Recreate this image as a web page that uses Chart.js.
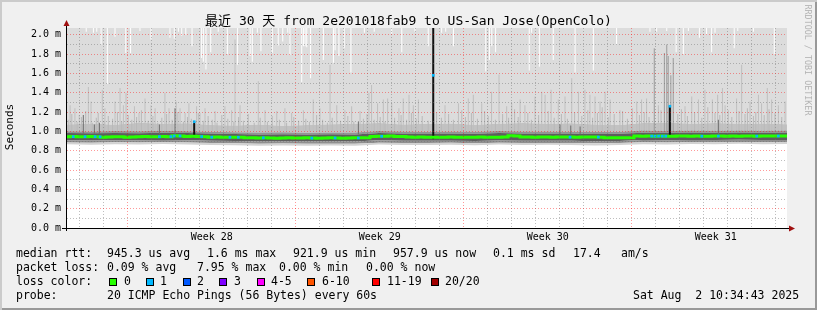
<!DOCTYPE html>
<html>
<head>
<meta charset="utf-8">
<title>smokeping 30 days</title>
<script src="https://cdn.jsdelivr.net/npm/chart.js@4.4.1/dist/chart.umd.min.js"></script>
<style>
body{margin:0;background:#f0f0f0;}
#frame{position:relative;width:817px;height:310px;background:#f0f0f0;box-shadow:inset 2px 2px 0 #cbcbcb,inset -2px -2px 0 #999;overflow:hidden;font-family:"DejaVu Sans Mono","Noto Sans CJK SC",monospace;color:#000;}
#frame canvas{position:absolute;left:0;top:0;}
.t{position:absolute;white-space:pre;font-size:11.5px;line-height:14px;}
.box{position:absolute;top:278px;width:8px;height:8px;border:1px solid #000;box-sizing:border-box;}
</style>
</head>
<body>
<div id="frame">
  <canvas id="plot" width="817" height="310"></canvas>
  <div class="t" style="left:0;top:12px;width:817px;text-align:center;font-size:13px;line-height:18px;">最近 30 天 from 2e201018fab9 to US-San Jose(OpenColo)</div>
  <div class="t" style="left:-20px;top:120px;width:60px;text-align:center;font-size:11px;transform:rotate(-90deg);">Seconds</div>
  <div class="t" style="left:748px;top:55px;width:120px;text-align:center;font-size:8.4px;line-height:10px;color:#b4b4b4;transform:rotate(90deg);">RRDTOOL / TOBI OETIKER</div>

  <div class="t" style="left:16px;top:246px;">median rtt:</div>
  <div class="t" style="left:107px;top:246px;">945.3 us avg</div>
  <div class="t" style="left:207px;top:246px;">1.6 ms max</div>
  <div class="t" style="left:293px;top:246px;">921.9 us min</div>
  <div class="t" style="left:393px;top:246px;">957.9 us now</div>
  <div class="t" style="left:493px;top:246px;">0.1 ms sd</div>
  <div class="t" style="left:573px;top:246px;">17.4</div>
  <div class="t" style="left:621px;top:246px;">am/s</div>

  <div class="t" style="left:16px;top:260px;">packet loss:</div>
  <div class="t" style="left:107px;top:260px;">0.09 % avg</div>
  <div class="t" style="left:197px;top:260px;">7.95 % max</div>
  <div class="t" style="left:279px;top:260px;">0.00 % min</div>
  <div class="t" style="left:366px;top:260px;">0.00 % now</div>

  <div class="t" style="left:16px;top:274px;">loss color:</div>
  <div class="box" style="left:109px;background:#26ff00;"></div><div class="t" style="left:124px;top:274px;">0</div>
  <div class="box" style="left:146px;background:#00b8ff;"></div><div class="t" style="left:160px;top:274px;">1</div>
  <div class="box" style="left:183px;background:#0059ff;"></div><div class="t" style="left:197px;top:274px;">2</div>
  <div class="box" style="left:219px;background:#7e00ff;"></div><div class="t" style="left:234px;top:274px;">3</div>
  <div class="box" style="left:257px;background:#ff00ff;"></div><div class="t" style="left:271px;top:274px;">4-5</div>
  <div class="box" style="left:307px;background:#ff5500;"></div><div class="t" style="left:322px;top:274px;">6-10</div>
  <div class="box" style="left:372px;background:#ff0000;"></div><div class="t" style="left:387px;top:274px;">11-19</div>
  <div class="box" style="left:431px;background:#a10000;"></div><div class="t" style="left:445px;top:274px;">20/20</div>

  <div class="t" style="left:16px;top:288px;">probe:</div>
  <div class="t" style="left:107px;top:288px;">20 ICMP Echo Pings (56 Bytes) every 60s</div>
  <div class="t" style="left:633px;top:288px;">Sat Aug  2 10:34:43 2025</div>
</div>

<script>
// x = days since the start of the 30 day window, y = milliseconds

var weekLabels = ['Week 28', 'Week 29', 'Week 30', 'Week 31'];
var weekLabelDays = [6.03, 13.03, 20.03, 27.03];
var weekStartDays = [2.53, 9.53, 16.53, 23.53];
var dayGridDays = [0.53, 1.53, 2.53, 3.53, 4.53, 5.53, 6.53, 7.53, 8.53, 9.53, 10.53, 11.53, 12.53, 13.53, 14.53,
    15.53, 16.53, 17.53, 18.53, 19.53, 20.53, 21.53, 22.53, 23.53, 24.53, 25.53, 26.53, 27.53, 28.53, 29.53];
var yTicks = [0, 0.1, 0.2, 0.3, 0.4, 0.5, 0.6, 0.7, 0.8, 0.9, 1.0, 1.1, 1.2, 1.3, 1.4, 1.5, 1.6, 1.7, 1.8, 1.9, 2.0];
var yMax = 2.07;

// smoke bands, one value per day
var bandDays = [0, 1, 2, 3, 4, 5, 6, 7, 8, 9, 10, 11, 12, 13, 14, 15, 16, 17, 18, 19, 20, 21, 22, 23, 24, 25, 26, 27, 28, 29, 30];
var smokeBottom = [0.866, 0.862, 0.868, 0.864, 0.870, 0.865, 0.860, 0.856, 0.852, 0.855, 0.850, 0.854, 0.852, 0.864, 0.860, 0.858,
    0.862, 0.857, 0.863, 0.859, 0.861, 0.858, 0.854, 0.860, 0.868, 0.864, 0.870, 0.866, 0.871, 0.867, 0.869];
var smokeLow = [0.885, 0.883, 0.887, 0.884, 0.888, 0.885, 0.881, 0.876, 0.872, 0.874, 0.871, 0.873, 0.872, 0.883, 0.880, 0.879,
    0.882, 0.878, 0.883, 0.880, 0.881, 0.879, 0.876, 0.879, 0.888, 0.885, 0.889, 0.887, 0.890, 0.888, 0.889];
var smokeCoreLow = [0.908, 0.906, 0.909, 0.907, 0.910, 0.908, 0.904, 0.900, 0.895, 0.896, 0.894, 0.896, 0.895, 0.907, 0.903, 0.902,
    0.904, 0.901, 0.905, 0.903, 0.904, 0.902, 0.898, 0.901, 0.911, 0.909, 0.912, 0.910, 0.913, 0.911, 0.912];
var smokeCoreHigh = [0.982, 0.980, 0.983, 0.981, 0.987, 0.983, 0.977, 0.973, 0.969, 0.970, 0.968, 0.970, 0.969, 0.984, 0.979, 0.977,
    0.979, 0.976, 0.984, 0.978, 0.979, 0.977, 0.973, 0.976, 0.987, 0.985, 0.988, 0.986, 0.989, 0.987, 0.988];
var smokeHigh = [1.002, 0.999, 1.003, 1.001, 1.007, 1.002, 0.996, 0.992, 0.988, 0.990, 0.987, 0.989, 0.988, 1.004, 0.999, 0.997,
    1.000, 0.996, 1.004, 0.998, 0.999, 0.997, 0.993, 0.996, 1.008, 1.005, 1.009, 1.006, 1.010, 1.007, 1.008];
var smokeDense = [1.070, 1.082, 1.068, 1.090, 1.078, 1.084, 1.065, 1.060, 1.072, 1.058, 1.066, 1.075, 1.080, 1.086, 1.070, 1.078,
    1.082, 1.068, 1.080, 1.086, 1.078, 1.084, 1.072, 1.066, 1.088, 1.092, 1.080, 1.086, 1.078, 1.082, 1.075];

// median rtt, one value every 6 hours
var medianStep = 0.25;
var medianRtt = [0.945, 0.946, 0.945, 0.944, 0.946, 0.945, 0.940, 0.941, 0.945, 0.944, 0.940, 0.941,
    0.945, 0.946, 0.944, 0.945, 0.946, 0.945, 0.955, 0.953, 0.948, 0.950, 0.946, 0.944,
    0.940, 0.941, 0.940, 0.938, 0.940, 0.939,
    0.935, 0.933, 0.932, 0.934, 0.932, 0.930, 0.932, 0.933, 0.931, 0.932, 0.934, 0.932, 0.930, 0.931, 0.933, 0.932, 0.930, 0.932, 0.934, 0.933, 0.935,
    0.948, 0.950, 0.949, 0.951, 0.948, 0.946,
    0.942, 0.940, 0.941, 0.939, 0.940, 0.938, 0.940, 0.941, 0.939, 0.940, 0.938, 0.940, 0.941, 0.940, 0.939, 0.940, 0.941,
    0.955, 0.953,
    0.942, 0.941, 0.940, 0.942, 0.941, 0.940, 0.942, 0.943, 0.941, 0.940, 0.942, 0.941, 0.943, 0.940,
    0.935, 0.934, 0.935, 0.933, 0.935,
    0.951, 0.950, 0.952, 0.950, 0.951, 0.949, 0.950, 0.951, 0.952, 0.950, 0.951, 0.950, 0.949, 0.951, 0.952, 0.950,
    0.951, 0.950, 0.952, 0.951, 0.950, 0.951, 0.953, 0.951, 0.952, 0.953];

// samples with 1 lost ping
var lossOneDays = [0.26, 0.75, 1.17, 1.38, 3.85, 4.33, 4.47, 4.71, 5.30, 5.61, 6.03, 6.79, 7.14, 8.18, 10.20, 11.17, 12.14,
    13.11, 15.26, 20.96, 22.14, 24.36, 24.50, 24.65, 24.80, 24.95, 25.12, 26.45, 27.14, 28.74, 29.64];
var lossOneRtt = [0.945, 0.945, 0.945, 0.944, 0.945, 0.946, 0.952, 0.953, 1.10, 0.946, 0.940, 0.939, 0.939, 0.933, 0.930, 0.932, 0.932,
    0.949, 1.58, 0.940, 0.941, 0.951, 0.950, 0.951, 0.950, 0.951, 1.26, 0.950, 0.951, 0.951, 0.952];

// single ping outliers (thin smoke spikes)
var spikeBase = 1.0;
var lightSpikeDays = [0.13, 0.33, 0.51, 0.89, 1.00, 1.47, 1.58, 2.00, 2.21, 2.35, 2.46, 2.81, 3.00, 3.25, 3.50, 3.67, 4.08, 4.25,
    4.55, 4.71, 4.92, 5.08, 5.40, 5.54, 5.75, 6.17, 6.58, 6.86, 7.00, 7.21,
    7.97, 8.25, 8.74, 9.08, 9.36, 9.85, 10.26, 10.54, 10.96, 11.24, 11.58, 11.86, 12.21, 12.58, 12.69, 12.94, 13.18, 13.36,
    13.53, 13.83, 14.01, 14.25, 14.43, 14.64,
    15.75, 16.31, 16.72, 16.93, 17.28, 17.69, 18.00, 18.32, 18.53, 18.88, 19.08, 19.50, 19.78, 19.92, 20.17, 20.47, 20.75,
    21.03, 21.31, 21.58, 21.79, 22.00, 22.21, 22.42,
    22.63, 23.04, 23.74, 23.94, 24.15, 24.64, 25.75, 26.03, 26.31, 26.58, 26.89, 27.11, 27.31, 27.42, 27.90, 28.11, 28.46,
    28.81, 28.94, 29.18, 29.36, 29.64, 29.92];
var lightSpikeTops = [1.27, 1.24, 1.17, 1.46, 1.31, 1.43, 1.24, 1.31, 1.45, 1.27, 1.40, 1.26, 1.19, 1.34, 1.27, 1.24, 1.40, 1.24,
    1.31, 1.24, 1.19, 1.29, 1.26, 1.19, 1.24, 1.21, 1.26, 1.22, 1.95, 1.27,
    1.52, 1.22, 1.21, 1.24, 1.19, 1.22, 1.33, 1.24, 1.69, 1.27, 1.22, 1.26, 1.21, 1.40, 1.48, 1.29, 1.33, 1.34,
    1.29, 1.24, 1.34, 1.38, 1.27, 1.33,
    1.27, 1.29, 1.34, 1.38, 1.29, 1.41, 1.59, 1.26, 1.29, 1.33, 1.27, 1.36, 1.41, 1.38, 1.43, 1.33, 1.36,
    1.55, 1.41, 1.43, 1.38, 1.36, 1.31, 1.41,
    1.33, 1.22, 1.31, 1.33, 1.34, 1.27, 1.26, 1.36, 1.33, 1.43, 1.33, 1.38, 1.45, 1.27, 1.34, 1.69, 1.31,
    1.38, 1.29, 1.45, 1.33, 1.27, 1.31];

var shortSpikeDays = [0.05, 0.20, 0.42, 0.60, 0.78, 1.05, 1.22, 1.30, 1.55, 1.72, 1.90, 2.10, 2.28, 2.55, 2.70, 2.90, 3.10, 3.38,
    3.58, 3.78, 3.95, 4.15, 4.38, 4.62, 4.85, 5.02, 5.18, 5.47, 5.68, 5.88, 6.05, 6.25, 6.45, 6.70, 6.95, 7.15, 7.35, 7.55,
    7.80, 8.05, 8.35, 8.55, 8.85, 9.15, 9.45, 9.65, 9.95, 10.10, 10.40, 10.65, 10.85, 11.05, 11.40, 11.70, 11.95, 12.35,
    12.50, 12.80, 13.05, 13.25, 13.65, 13.92, 14.15, 14.35, 14.55, 14.80, 15.05, 15.40, 15.60, 15.90, 16.10, 16.45, 16.60,
    16.85, 17.10, 17.40, 17.55, 17.85, 18.15, 18.40, 18.65, 18.80, 19.20, 19.35, 19.65, 20.05, 20.30, 20.60, 20.85, 21.15,
    21.45, 21.70, 21.90, 22.10, 22.30, 22.55, 22.80, 23.15, 23.35, 23.55, 23.85, 24.05, 24.25, 24.75, 25.45, 25.60, 25.85,
    26.15, 26.45, 26.70, 27.00, 27.20, 27.55, 27.70, 28.00, 28.25, 28.35, 28.60, 28.70, 29.05, 29.25, 29.50, 29.78];
var shortSpikeTops = [1.12, 1.18, 1.10, 1.15, 1.21, 1.09, 1.14, 1.19, 1.11, 1.16, 1.13, 1.20, 1.10, 1.17, 1.12, 1.15, 1.22, 1.11,
    1.16, 1.09, 1.14, 1.18, 1.12, 1.20, 1.10, 1.15, 1.13, 1.19, 1.11, 1.16,
    1.12, 1.09, 1.17, 1.13, 1.10, 1.15, 1.11, 1.18, 1.09, 1.14, 1.10, 1.16, 1.12, 1.09, 1.15, 1.11, 1.13, 1.10, 1.17, 1.12,
    1.09, 1.14, 1.11, 1.16, 1.10, 1.13, 1.18, 1.12, 1.15, 1.10,
    1.14, 1.17, 1.12, 1.19, 1.13, 1.16, 1.11, 1.20, 1.14, 1.18, 1.12, 1.22, 1.15, 1.19, 1.13, 1.21, 1.16, 1.12, 1.18, 1.14,
    1.23, 1.15, 1.19, 1.12, 1.17, 1.21, 1.14, 1.18, 1.13, 1.20,
    1.16, 1.22, 1.14, 1.19, 1.25, 1.15, 1.18, 1.21, 1.13, 1.24, 1.17, 1.20, 1.15, 1.22, 1.18, 1.23, 1.16, 1.20, 1.14, 1.25,
    1.19, 1.17, 1.22, 1.15, 1.21, 1.18, 1.24, 1.16, 1.20, 1.17, 1.23, 1.19, 1.15];

var greySpikeDays = [24.47, 24.89, 24.99, 25.05, 25.16, 25.26];
var greySpikeTops = [1.86, 1.81, 1.90, 1.78, 1.58, 1.76];

var darkSpikeDays = [0.68, 1.14, 1.35, 3.85, 4.50, 12.14, 20.54, 20.99, 21.38, 27.14];
var darkSpikeTops = [1.17, 1.07, 1.09, 1.07, 1.24, 1.10, 1.07, 1.06, 1.05, 1.12];

var blackSpikeDays = [5.30, 15.26, 25.12];
var blackSpikeLows = [0.95, 0.92, 0.95];
var blackSpikeTops = [1.10, 2.07, 1.26];

// gaps at the top where the slowest ping stayed under the scale
var notchDays = [0.80, 1.10, 1.24, 1.42, 1.68, 2.00, 2.45, 2.65, 3.04, 3.50, 4.29, 4.47, 4.64, 4.78, 4.95, 5.21, 5.61, 5.68,
    5.79, 5.99, 6.30, 6.68, 7.11,
    7.63, 7.72, 7.93, 8.08, 8.55, 8.80, 8.99, 9.20, 9.29, 9.78, 9.85, 9.92, 9.99, 10.15, 10.68, 11.10, 11.17, 11.33, 11.55,
    11.83, 12.39, 12.80, 13.53, 13.95, 14.50,
    15.05, 15.61, 15.78, 16.10, 17.45, 17.60, 17.70, 17.86, 19.26, 19.36, 19.68, 20.26, 21.17, 21.93,
    22.90, 24.29, 24.57, 24.99, 25.38, 25.68, 25.89, 26.35, 26.65, 26.86, 27.00, 27.80, 27.95, 28.60, 29.47];
var notchLows = [2.03, 2.02, 2.03, 1.90, 1.49, 1.98, 1.81, 1.81, 2.04, 1.95, 1.97, 1.96, 2.03, 1.99, 2.00, 1.88, 1.76, 1.72,
    1.64, 1.82, 2.03, 1.80, 1.69,
    1.78, 1.72, 2.02, 1.83, 1.81, 1.89, 1.93, 2.02, 1.79, 1.51, 1.88, 1.88, 1.87, 1.55, 1.74, 1.71, 1.84, 1.78, 1.86,
    1.61, 2.02, 2.03, 2.01, 1.82, 2.03,
    1.88, 2.02, 2.03, 1.88, 1.62, 1.74, 1.88, 1.82, 1.63, 2.02, 1.67, 1.74, 1.61, 1.63,
    1.90, 2.03, 2.03, 2.04, 1.82, 1.80, 2.04, 1.97, 2.00, 1.82, 2.02, 1.86, 2.04, 2.03, 1.80];


var MGRID = 'rgba(255,0,0,0.4)';
var GRID = 'rgba(110,110,110,0.45)';

var pts = function(xs, ys){
    return xs.map(function(x, i){ return {x: x, y: ys[i]}; });
};

var band = function(ys, target, color, order){
    return {type: 'line', data: pts(bandDays, ys), fill: target, backgroundColor: color,
            borderWidth: 0, pointRadius: 0, order: order};
};

var spikes = function(days, lows, tops, color, width, order){
    return {
        type: 'bar',
        data: days.map(function(d, i){
            var lo = Array.isArray(lows) ? lows[i] : lows;
            var hi = Array.isArray(tops) ? tops[i] : tops;
            return {x: d, y: [lo, hi]};
        }),
        backgroundColor: color, borderWidth: 0, barThickness: width, inflateAmount: 0,
        stack: 'smoke', order: order
    };
};

var datasets = [
    band(smokeBottom, false, 'rgba(0,0,0,0)', 76),      // 0
    band(smokeLow, 0, '#d2d2d2', 77),                  // 1
    band(smokeCoreLow, 1, '#8f8f8f', 78),              // 2
    band(smokeCoreHigh, 2, '#5e5e5e', 79),             // 3
    band(smokeHigh, 3, '#949494', 80),                 // 4
    band(smokeDense, 4, '#c2c2c2', 95),                // 5
    band(smokeDense, 'end', '#dcdcdc', 100),           // 6
    spikes(lightSpikeDays, spikeBase, lightSpikeTops, '#bfbfbf', 1, 90),
    spikes(shortSpikeDays, spikeBase, shortSpikeTops, '#b8b8b8', 1, 91),
    spikes(greySpikeDays, spikeBase, greySpikeTops, '#9a9a9a', 1, 88),
    spikes(notchDays, notchLows, yMax, '#ffffff', 1, 86),
    spikes(darkSpikeDays, 0.97, darkSpikeTops, '#6e6e6e', 1, 60),
    spikes(blackSpikeDays, blackSpikeLows, blackSpikeTops, '#111111', 2, 50),
    {
        type: 'line',
        data: medianRtt.map(function(v, i){ return {x: i * medianStep, y: v}; }),
        stepped: 'middle', borderColor: '#26ff00', borderWidth: 3, pointRadius: 0, fill: false, order: 10
    },
    {
        type: 'line', data: pts(lossOneDays, lossOneRtt), showLine: false,
        pointStyle: 'rect', pointRadius: 1.9, pointBackgroundColor: '#00b8ff', pointBorderWidth: 0, order: 5
    }
];

var plotBack = {
    id: 'plotBack',
    beforeDraw: function(chart){
        var a = chart.chartArea, ctx = chart.ctx;
        ctx.save();
        ctx.fillStyle = '#ffffff';
        ctx.fillRect(a.left, a.top, a.right - a.left, a.bottom - a.top);
        ctx.restore();
    }
};

// rrdtool style axes with arrow heads
var axes = {
    id: 'axes',
    afterDraw: function(chart){
        var a = chart.chartArea, ctx = chart.ctx;
        ctx.save();
        ctx.strokeStyle = '#000';
        ctx.lineWidth = 1;
        ctx.beginPath();
        ctx.moveTo(a.left - 5, a.bottom + 0.5);
        ctx.lineTo(a.right + 3, a.bottom + 0.5);
        ctx.moveTo(a.left - 0.5, a.bottom + 3);
        ctx.lineTo(a.left - 0.5, a.top - 2);
        ctx.stroke();
        ctx.fillStyle = '#a01010';
        ctx.beginPath();
        ctx.moveTo(a.right + 2, a.bottom - 2.5);
        ctx.lineTo(a.right + 8, a.bottom + 0.5);
        ctx.lineTo(a.right + 2, a.bottom + 3.5);
        ctx.closePath();
        ctx.fill();
        ctx.beginPath();
        ctx.moveTo(a.left - 3.5, a.top - 2);
        ctx.lineTo(a.left - 0.5, a.top - 8);
        ctx.lineTo(a.left + 2.5, a.top - 2);
        ctx.closePath();
        ctx.fill();
        ctx.restore();
    }
};

Chart.defaults.font.family = '"DejaVu Sans Mono", monospace';
Chart.defaults.color = '#000';

var chart = new Chart(document.getElementById('plot').getContext('2d'), {
    type: 'line',
    data: {datasets: datasets},
    options: {
        responsive: false,
        animation: false,
        devicePixelRatio: 1,
        events: [],
        layout: {padding: {left: 0, right: 30, top: 28, bottom: 62}},
        plugins: {legend: {display: false}, tooltip: {enabled: false}},
        scales: {
            x: {
                type: 'linear', min: 0, max: 30, offset: false,
                afterBuildTicks: function(s){
                    s.ticks = dayGridDays.concat(weekLabelDays).sort(function(a, b){ return a - b; })
                        .map(function(v){ return {value: v}; });
                },
                afterFit: function(s){ s.height = 20; },
                ticks: {
                    autoSkip: false, maxRotation: 0, minRotation: 0, padding: 3, font: {size: 10},
                    callback: function(v){
                        var i = weekLabelDays.indexOf(v);
                        return i >= 0 ? weekLabels[i] : '';
                    }
                },
                grid: {
                    z: 1, offset: false, drawTicks: false, lineWidth: 1,
                    color: function(c){
                        var v = c.tick && c.tick.value;
                        if (weekLabelDays.indexOf(v) >= 0) return 'rgba(0,0,0,0)';
                        return weekStartDays.indexOf(v) >= 0 ? MGRID : GRID;
                    }
                },
                border: {display: false, dash: [1, 2]}
            },
            y: {
                type: 'linear', min: 0, max: yMax, stacked: false,
                afterBuildTicks: function(s){
                    s.ticks = yTicks.map(function(v){ return {value: v}; });
                },
                afterFit: function(s){ s.width = 67; },
                ticks: {
                    autoSkip: false, padding: 6, font: {size: 10},
                    callback: function(v){
                        return Math.round(v * 10) % 2 === 0 ? v.toFixed(1) + ' m' : '';
                    }
                },
                grid: {
                    z: 1, drawTicks: false, lineWidth: 1,
                    color: function(c){
                        var v = c.tick ? c.tick.value : 0;
                        return Math.round(v * 10) % 2 === 0 ? MGRID : GRID;
                    }
                },
                border: {display: false, dash: [1, 2]}
            }
        }
    },
    plugins: [plotBack, axes]
});
</script>
</body>
</html>
